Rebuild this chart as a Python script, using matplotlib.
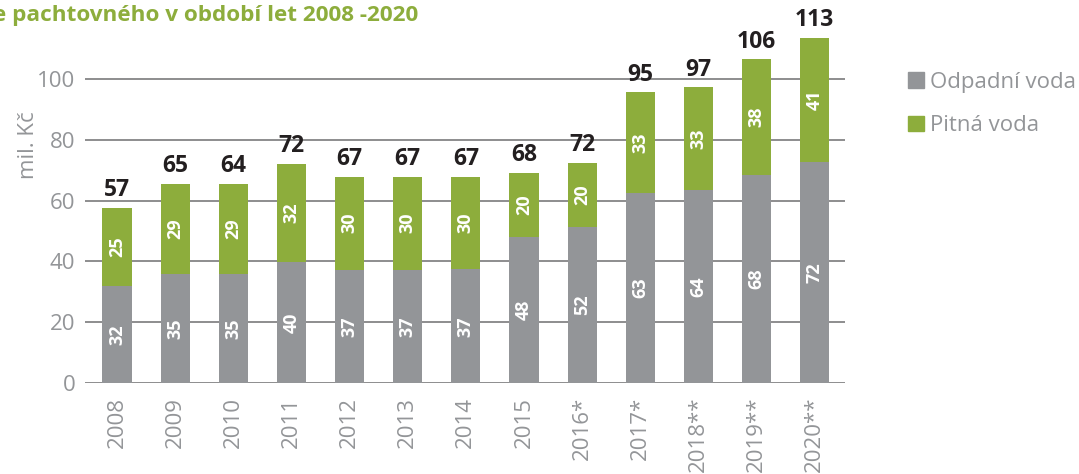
import matplotlib
matplotlib.use("Agg")
import numpy as np
import matplotlib.pyplot as plt
from matplotlib.patches import Patch

# data (mil. Kč)
years = ["2008", "2009", "2010", "2011", "2012", "2013", "2014",
         "2015", "2016*", "2017*", "2018**", "2019**", "2020**"]
odpadni = [31.9, 36.0, 36.0, 39.8, 37.3, 37.3, 37.4, 48.0, 51.3, 62.6, 63.7, 68.5, 72.9]
pitna = [25.7, 29.6, 29.6, 32.4, 30.6, 30.6, 30.5, 21.2, 21.2, 33.1, 33.7, 38.1, 40.8]
odpadni_labels = ["32", "35", "35", "40", "37", "37", "37", "48", "52", "63", "64", "68", "72"]
pitna_labels = ["25", "29", "29", "32", "30", "30", "30", "20", "20", "33", "33", "38", "41"]
total_labels = ["57", "65", "64", "72", "67", "67", "67", "68", "72", "95", "97", "106", "113"]

GRAY = "#939598"
GREEN = "#8dad3c"
TEXT_GRAY = "#939598"
GRID = "#7a7a7c"

plt.rcParams["font.family"] = ["Open Sans", "DejaVu Sans"]

fig = plt.figure(figsize=(10.79, 4.74), dpi=100)
ax = fig.add_axes([85 / 1079, 91 / 474, 760 / 1079, 363 / 474])

x = np.arange(len(years))
ax.bar(x, odpadni, width=0.5, color=GRAY, zorder=3)
ax.bar(x, pitna, width=0.5, bottom=odpadni, color=GREEN, zorder=3)

for i in range(len(years)):
    ax.text(x[i], odpadni[i] / 2, odpadni_labels[i], rotation=90, ha="center",
            va="center", color="white", fontsize=13, fontweight="bold", zorder=4)
    ax.text(x[i], odpadni[i] + pitna[i] / 2, pitna_labels[i], rotation=90,
            ha="center", va="center", color="white", fontsize=13,
            fontweight="bold", zorder=4)
    ax.annotate(total_labels[i], (x[i], odpadni[i] + pitna[i]),
                xytext=(0, 4), textcoords="offset points", ha="center",
                va="bottom", fontsize=16.5, fontweight="bold", color="#231f20")

ax.set_xlim(-0.55, 12.52)
ax.set_ylim(0, 119.5)
ax.set_yticks([0, 20, 40, 60, 80, 100])
ax.set_xticks(x)
ax.set_xticklabels(years, rotation=90, va="top")
ax.tick_params(axis="both", length=0, labelsize=16, labelcolor=TEXT_GRAY)
ax.tick_params(axis="x", pad=10)
ax.tick_params(axis="y", pad=7)
ax.yaxis.grid(True, color=GRID, linewidth=1.2, zorder=1)
for s in ax.spines.values():
    s.set_visible(False)

fig.text(28 / 1079, 1 - 145 / 474, "mil. Kč", rotation=90, ha="center",
         va="center", fontsize=16, color=TEXT_GRAY)

fig.text(-7 / 1079, 1 - 15 / 474, "e pachtovného v období let 2008 -2020",
         ha="left", va="center", fontsize=16.2, fontweight="bold", color=GREEN)

handles = [Patch(color=GRAY, label="Odpadní voda"),
           Patch(color=GREEN, label="Pitná voda")]
fig.legend(handles=handles, loc="upper left", bbox_to_anchor=(888 / 1079, 1 - 52 / 474),
           frameon=False, fontsize=16, labelcolor=TEXT_GRAY, handlelength=0.7,
           handleheight=0.7, handletextpad=0.3, labelspacing=1.0)

fig.savefig("out.png", dpi=100)
